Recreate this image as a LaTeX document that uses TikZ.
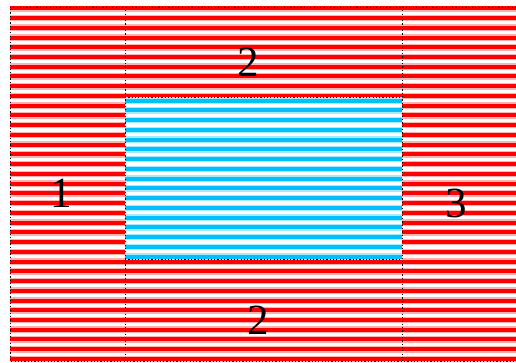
\documentclass[tikz,border=0pt]{standalone}
\usepackage{fontspec}
\setmainfont{Liberation Serif}
\definecolor{skyb}{RGB}{0,191,255}
\begin{document}
\begin{tikzpicture}[x=1pt,y=-1pt,
  dotline/.style={black,line width=0.9pt,dash pattern=on 1.2pt off 2.1pt},
  lbl/.style={font=\fontsize{43}{43}\selectfont,inner sep=0pt,anchor=center}]
\useasboundingbox (0,0) rectangle (516,363);
\fill[white] (0,0) rectangle (516,363);
% red striped field
\begin{scope}
\clip (10,7) rectangle (516,361);
\foreach \k in {0,...,36}{
  \pgfmathsetmacro{\yy}{8.3+9.74*\k}
  \draw[red!30,line width=6.6pt] (10,\yy) -- (516,\yy);
  \draw[red,line width=4pt] (10,\yy) -- (516,\yy);
}
\end{scope}
% blue striped inner box
\begin{scope}
\clip (125,97) rectangle (402,259);
\fill[white] (125,97) rectangle (402,259);
\foreach \k in {-1,...,17}{
  \pgfmathsetmacro{\yy}{100.7+9.74*\k}
  \draw[skyb!35,line width=6.6pt] (125,\yy) -- (402,\yy);
  \draw[skyb,line width=4pt] (125,\yy) -- (402,\yy);
}
\end{scope}
% dotted lines
\draw[dotline] (516,7) -- (10,7) -- (10,361) -- (516,361);
\draw[dotline] (125,7) -- (125,361);
\draw[dotline] (402,7) -- (402,361);
\draw[dotline] (125,97) -- (402,97);
\draw[dotline] (125,259) -- (402,259);
% labels
\node[lbl] (l1) at (61,193) {1};
\node[lbl] (l2t) at (248,62) {2};
\node[lbl] (l3) at (456,203) {3};
\node[lbl] (l2b) at (258,320) {2};
\end{tikzpicture}
\end{document}
